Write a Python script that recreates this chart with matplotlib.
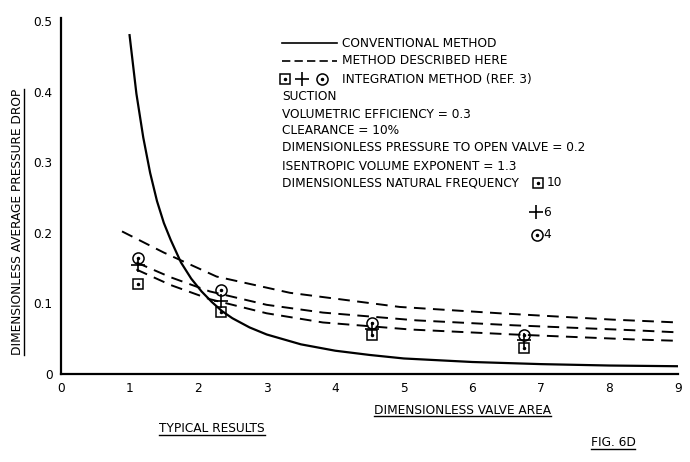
import numpy as np
import matplotlib
matplotlib.use("Agg")
import matplotlib.pyplot as plt
from matplotlib.lines import Line2D

plt.rcParams["font.family"] = ["DejaVu Sans"]
plt.rcParams["font.stretch"] = "condensed"

# conventional method (solid curve)
conv_x = [1.0, 1.1, 1.2, 1.3, 1.4, 1.5, 1.6, 1.75, 1.9, 2.05, 2.2, 2.35, 2.5, 2.75,
          3.0, 3.5, 4.0, 4.5, 5.0, 6.0, 7.0, 8.0, 9.0]
conv_y = [0.48, 0.397, 0.335, 0.285, 0.245, 0.214, 0.19, 0.158, 0.135, 0.117, 0.102,
          0.089, 0.079, 0.066, 0.056, 0.042, 0.033, 0.027, 0.022, 0.017, 0.014, 0.012, 0.011]

# method described here (three dashed curves)
upper_x = [0.89, 1.5, 2.27, 3.34, 4.94, 6.4, 8.05, 9.0]
upper_y = [0.202, 0.172, 0.138, 0.115, 0.095, 0.086, 0.077, 0.073]
mid_x = [1.1, 1.6, 2.17, 3.0, 3.82, 5.18, 6.6, 8.34, 9.0]
mid_y = [0.158, 0.137, 0.117, 0.098, 0.087, 0.076, 0.069, 0.062, 0.059]
low_x = [1.1, 1.6, 2.17, 3.0, 3.82, 5.1, 6.6, 8.34, 9.0]
low_y = [0.148, 0.126, 0.106, 0.086, 0.073, 0.063, 0.056, 0.049, 0.047]

# integration method points, by natural frequency
pts_x = [1.13, 2.33, 4.53, 6.75]
sq10_y = [0.128, 0.088, 0.055, 0.037]
plus6_y = [0.155, 0.104, 0.064, 0.048]
circ4_y = [0.164, 0.119, 0.072, 0.055]

xticks = list(range(10))
yticks = [0, 0.1, 0.2, 0.3, 0.4, 0.5]
ytick_labels = ["0", "0.1", "0.2", "0.3", "0.4", "0.5"]

FS = 9.7
W, H = 690, 462
fig = plt.figure(figsize=(W / 100, H / 100), dpi=100)
ax = fig.add_axes([61 / W, 1 - 374 / H, 617 / W, 356.5 / H])

ax.plot(conv_x, conv_y, color="black", lw=1.6)
for xs, ys in [(upper_x, upper_y), (mid_x, mid_y), (low_x, low_y)]:
    ax.plot(xs, ys, color="black", lw=1.4, dashes=(6, 3.8))


def square_pts(a, x, y, **kw):
    a.plot(x, y, "s", ms=7, mfc="none", mec="black", mew=1.1, ls="none", **kw)
    a.plot(x, y, ".", ms=3, color="black", ls="none", **kw)


def circle_pts(a, x, y, **kw):
    a.plot(x, y, "o", ms=8, mfc="none", mec="black", mew=1.1, ls="none", **kw)
    a.plot(x, y, ".", ms=3, color="black", ls="none", **kw)


def plus_pts(a, x, y, **kw):
    a.plot(x, y, "+", ms=10, mec="black", mew=1.2, ls="none", **kw)


square_pts(ax, pts_x, sq10_y)
plus_pts(ax, pts_x, plus6_y)
circle_pts(ax, pts_x, circ4_y)

ax.set_xlim(0, 9)
ax.set_ylim(0, 0.505)
ax.set_xticks(xticks)
ax.set_xticklabels([str(t) for t in xticks], fontsize=FS)
ax.set_yticks(yticks)
ax.set_yticklabels(ytick_labels, fontsize=FS)
ax.tick_params(length=0, pad=6)
for s in ["top", "right"]:
    ax.spines[s].set_visible(False)
ax.spines["left"].set_linewidth(1.6)
ax.spines["bottom"].set_linewidth(1.6)

# legend / notes block
tr = ax.transAxes
ax.plot([0.358, 0.447], [0.928, 0.928], color="black", lw=1.2, transform=tr, clip_on=False)
ax.plot([0.358, 0.447], [0.878, 0.878], color="black", lw=1.2, dashes=(5, 2.5),
        transform=tr, clip_on=False)
square_pts(ax, [0.363], [0.827], transform=tr, clip_on=False)
plus_pts(ax, [0.391], [0.827], transform=tr, clip_on=False)
circle_pts(ax, [0.423], [0.827], transform=tr, clip_on=False)
ax.text(0.455, 0.928, "CONVENTIONAL METHOD", transform=tr, fontsize=FS, va="center")
ax.text(0.455, 0.878, "METHOD DESCRIBED HERE", transform=tr, fontsize=FS, va="center")
ax.text(0.455, 0.827, "INTEGRATION METHOD (REF. 3)", transform=tr, fontsize=FS, va="center")
notes = ["SUCTION",
         "VOLUMETRIC EFFICIENCY = 0.3",
         "CLEARANCE = 10%",
         "DIMENSIONLESS PRESSURE TO OPEN VALVE = 0.2",
         "ISENTROPIC VOLUME EXPONENT = 1.3",
         "DIMENSIONLESS NATURAL FREQUENCY"]
note_y = [0.777, 0.729, 0.682, 0.634, 0.583, 0.536]
for t, yy in zip(notes, note_y):
    ax.text(0.358, yy, t, transform=tr, fontsize=FS, va="center")
square_pts(ax, [0.773], [0.536], transform=tr, clip_on=False)
ax.text(0.787, 0.536, "10", transform=tr, fontsize=FS, va="center")
plus_pts(ax, [0.770], [0.454], transform=tr, clip_on=False)
ax.text(0.781, 0.454, "6", transform=tr, fontsize=FS, va="center")
circle_pts(ax, [0.771], [0.390], transform=tr, clip_on=False)
ax.text(0.781, 0.390, "4", transform=tr, fontsize=FS, va="center")

# labels with underlines
ylab = fig.text(18 / W, 1 - 222 / H, "DIMENSIONLESS AVERAGE PRESSURE DROP", rotation=90,
                fontsize=FS, ha="center", va="center")
xlab = fig.text(462 / W, 1 - 410 / H, "DIMENSIONLESS VALVE AREA", fontsize=FS,
                ha="center", va="center")
typ = fig.text(212 / W, 1 - 429 / H, "TYPICAL RESULTS", fontsize=FS, ha="center", va="center")
figno = fig.text(613 / W, 1 - 443 / H, "FIG. 6D", fontsize=FS, ha="center", va="center")

fig.canvas.draw()
r = fig.canvas.get_renderer()
for t in [xlab, typ, figno]:
    bb = t.get_window_extent(r)
    fig.add_artist(Line2D([bb.x0 / W, bb.x1 / W], [(bb.y0 + 1) / H, (bb.y0 + 1) / H],
                          color="black", lw=1.0, transform=fig.transFigure))
bb = ylab.get_window_extent(r)
fig.add_artist(Line2D([(bb.x1 - 1) / W, (bb.x1 - 1) / W], [bb.y0 / H, bb.y1 / H],
                      color="black", lw=1.0, transform=fig.transFigure))

fig.savefig("out.png", dpi=100)
